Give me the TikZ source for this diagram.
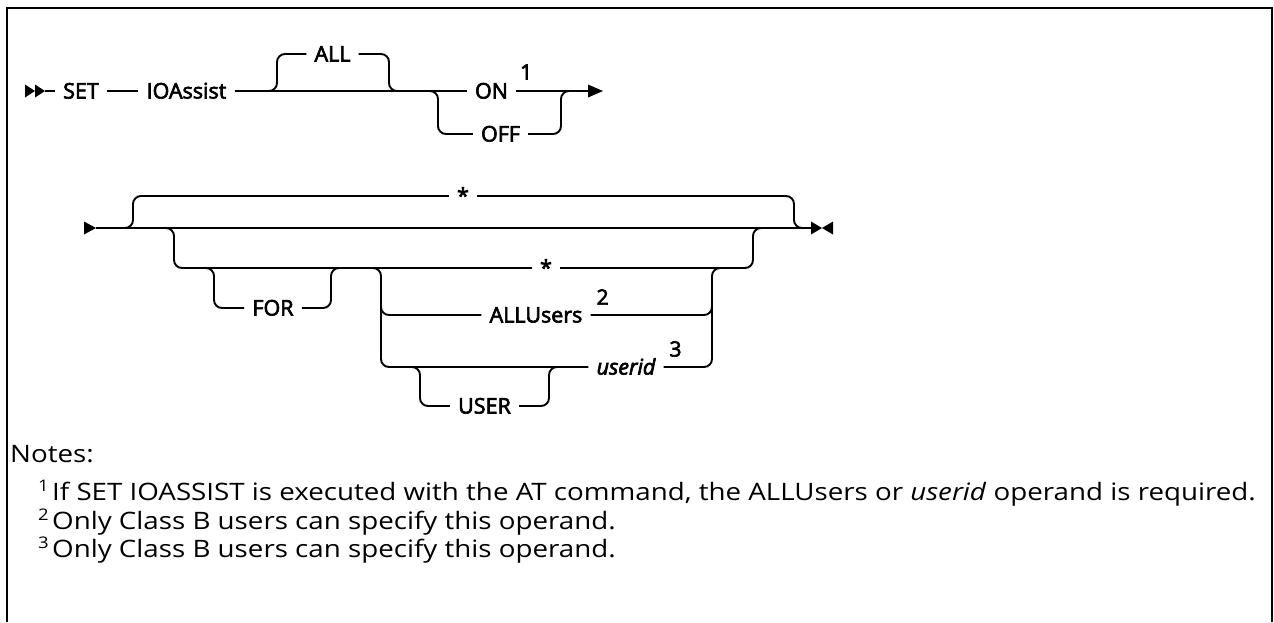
\documentclass[tikz,border=0pt]{standalone}
\usepackage{fontspec}
\setmainfont{Open Sans}
\newfontfamily\lblfont{Open Sans}[FakeBold=3]
\newfontfamily\notefont{Open Sans}[FakeStretch=1.155]
\begin{document}
\begin{tikzpicture}[x=1pt,y=-1pt,
  rail/.style={line width=1.9pt, rounded corners=8pt},
  lbl/.style={font=\lblfont\fontsize{21.5}{21.5}\selectfont, inner xsep=8pt, inner ysep=0pt, text height=15pt, text depth=0pt},
  supr/.style={font=\lblfont\fontsize{21}{21}\selectfont, inner sep=0pt},
  note/.style={font=\notefont\fontsize{24}{24}\selectfont, anchor=base west, inner sep=0pt},
  notesup/.style={font=\notefont\fontsize{16}{16}\selectfont, anchor=base west, inner sep=0pt},
  tip/.style={fill=black}
]
\useasboundingbox (0,0) rectangle (1274,622);
\draw[line width=2.4pt] (7,622) -- (7,8) -- (1272,8) -- (1272,622);

% ---------- row 1 ----------
\node[lbl] (set) at (81,91) {SET};
\node[lbl] (ioa) at (186.5,91) {IOAssist};
\node[lbl] (all) at (332.5,54) {ALL};
\node[lbl] (on) at (491.5,91) {ON};
\node[lbl] (off) at (500.5,134) {OFF};
\node[supr] (s1) at ([shift={(10,-19)}]on.east) {1};
\coordinate (r1start) at (45,91);
\coordinate (r1end) at (588,91);
\fill[tip] (25,84.5) -- (35,91) -- (25,97.5) -- cycle;
\fill[tip] (35,84.5) -- (45,91) -- (35,97.5) -- cycle;
\draw[rail] (r1start) -- (set.west);
\draw[rail] (set.east) -- (ioa.west);
\draw[rail] (ioa.east) -- (on.west);
\draw[rail] (269,91) -- (277,91) -- (277,54) -- (all.west);
\draw[rail] (all.east) -- (389,54) -- (389,91) -- (397,91);
\draw[rail] (430,91) -- (438,91) -- (438,134) -- (off.west);
\draw[rail] (off.east) -- (561,134) -- (561,91) -- (569,91);
\draw[rail] (on.east) -- (r1end);
\fill[tip] (r1end) ++(0,-6.5) -- ++(15,6.5) -- ++(-15,6.5) -- cycle;

% ---------- row 2 ----------
\node[lbl] (star1) at (463,196) {*};
\node[lbl] (star2) at (546,268) {*};
\node[lbl] (for) at (273,308) {FOR};
\node[lbl] (allu) at (536,315) {ALLUsers};
\node[lbl] (uid) at (626,367) {\itshape userid};
\node[lbl] (user) at (484.5,406) {USER};
\node[supr] (s2) at ([shift={(12,-18)}]allu.east) {2};
\node[supr] (s3) at ([shift={(12,-18)}]uid.east) {3};
\coordinate (r2start) at (96,228);
\coordinate (r2end) at (812,228);
\fill[tip] (84,221.5) -- (r2start) -- (84,234.5) -- cycle;
\draw[rail] (r2start) -- (r2end);
\fill[tip] (811,221.5) -- (822,228) -- (811,234.5) -- cycle;
\fill[tip] (833,221.5) -- (822,228) -- (833,234.5) -- cycle;
% default *
\draw[rail] (125,228) -- (133,228) -- (133,196) -- (star1.west);
\draw[rail] (star1.east) -- (794,196) -- (794,228) -- (802,228);
% FOR group
\draw[rail] (166,228) -- (174,228) -- (174,268) -- (star2.west);
\draw[rail] (star2.east) -- (753,268) -- (753,228) -- (761,228);
\draw[rail] (206,268) -- (214,268) -- (214,308) -- (for.west);
\draw[rail] (for.east) -- (331,308) -- (331,268) -- (339,268);
% user choice
\draw[rail] (373,268) -- (381,268) -- (381,367) -- (uid.west);
\draw[rail] (381,300) -- (381,315) -- (allu.west);
\draw[rail] (allu.east) -- (712,315) -- (712,300);
\draw[rail] (uid.east) -- (712,367) -- (712,268) -- (720,268);
\draw[rail] (412,367) -- (420,367) -- (420,406) -- (user.west);
\draw[rail] (user.east) -- (549,406) -- (549,367) -- (557,367);

% ---------- notes ----------
\node[note] (notes) at (10,462) {Notes:};
\node[notesup] (n1s) at (38,491) {1};
\node[note] (n1) at (52,500) {If SET IOASSIST is executed with the AT command, the ALLUsers or \textit{userid} operand is required.};
\node[notesup] (n2s) at (38,520) {2};
\node[note] (n2) at (52,529) {Only Class B users can specify this operand.};
\node[notesup] (n3s) at (38,548) {3};
\node[note] (n3) at (52,557) {Only Class B users can specify this operand.};
\end{tikzpicture}
\end{document}
